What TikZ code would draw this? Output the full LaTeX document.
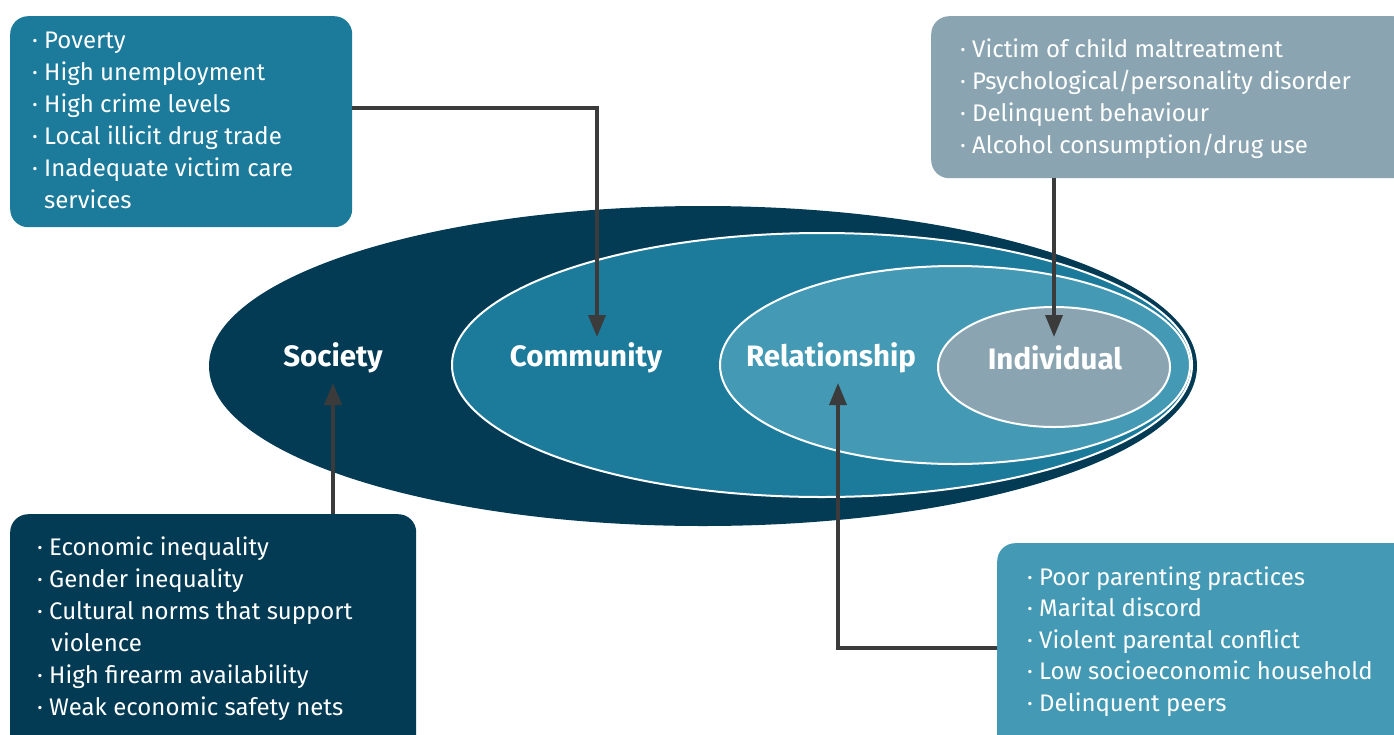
\documentclass[tikz,border=0pt]{standalone}
\usepackage{fontspec}
\setmainfont{Fira Sans}
\usetikzlibrary{arrows.meta}
\definecolor{navy}{HTML}{033B55}
\definecolor{commteal}{HTML}{1C7A9B}
\definecolor{relteal}{HTML}{4499B4}
\definecolor{indgray}{HTML}{8AA5B1}
\definecolor{arrgray}{HTML}{3B3B3B}
\newcommand{\bl}{\makebox[12pt][l]{\textperiodcentered}}
\tikzset{
  box/.style={rounded corners=18pt, inner sep=0pt, anchor=north west},
  txt/.style={text=white, inner sep=0pt, anchor=base west, font=\fontsize{24}{32}\selectfont},
  lab/.style={text=white, inner sep=0pt, font=\fontsize{29.5}{32}\selectfont\bfseries},
  ring/.style={draw=white, line width=2pt},
  arr/.style={draw=arrgray, line width=3.5pt, -{Triangle[length=22pt,width=17pt]}}
}
\begin{document}
\begin{tikzpicture}[x=1pt,y=-1pt]
\fill[white] (0,0) rectangle (1394,734);
\useasboundingbox (0,0) rectangle (1394,734);
% ellipses
\fill[navy] (703,366) ellipse [x radius=494pt, y radius=160pt];
\filldraw[fill=commteal, ring] (822,365) ellipse [x radius=370pt, y radius=132pt];
\filldraw[fill=relteal, ring] (955,365) ellipse [x radius=235pt, y radius=99pt];
\filldraw[fill=indgray, ring] (1054,367) ellipse [x radius=116pt, y radius=60pt];
% labels
\node[lab] (soc) at (333,358) {Society};
\node[lab] (com) at (586,358) {Community};
\node[lab] (rel) at (831,358) {Relationship};
\node[lab] (ind) at (1055,358) {Individual};
% boxes
\node[box, fill=commteal, minimum width=342pt, minimum height=211pt] (commbox) at (10,16) {};
\node[box, fill=indgray, minimum width=480pt, minimum height=162pt] (indbox) at (931,16) {};
\node[box, fill=navy, minimum width=406pt, minimum height=240pt] (socbox) at (10,514) {};
\node[box, fill=relteal, minimum width=420pt, minimum height=220pt] (relbox) at (997,543) {};
% texts
\node[txt] (commtxt) at (32,48) {\begin{tabular}[t]{@{}l@{}}
\bl Poverty\\ \bl High unemployment\\ \bl High crime levels\\ \bl Local illicit drug trade\\
\bl Inadequate victim care\\ \hspace{12pt}services\end{tabular}};
\node[txt] (indtxt) at (960,57) {\begin{tabular}[t]{@{}l@{}}
\bl Victim of child maltreatment\\ \bl Psychological/personality disorder\\ \bl Delinquent behaviour\\ \bl Alcohol consumption/drug use\end{tabular}};
\node[txt] (soctxt) at (37,555) {\begin{tabular}[t]{@{}l@{}}
\bl Economic inequality\\ \bl Gender inequality\\ \bl Cultural norms that support\\ \hspace{14pt}violence\\
\bl High firearm availability\\ \bl Weak economic safety nets\end{tabular}};
\node[txt, font=\fontsize{24}{31.5}\selectfont] (reltxt) at (1027,585) {\begin{tabular}[t]{@{}l@{}}
\bl Poor parenting practices\\ \bl Marital discord\\ \bl Violent parental conflict\\ \bl Low socioeconomic household\\ \bl Delinquent peers\end{tabular}};
% arrow ends
\coordinate (comtip) at (597,337);
\coordinate (indtip) at (1054,337);
\coordinate (soctip) at (333,383);
\coordinate (reltip) at (838,383);
% arrows
\draw[arr] (commbox.east |- 0,108) -| (comtip);
\draw[arr] (indtip |- indbox.south) -- (indtip);
\draw[arr] (soctip |- socbox.north) -- (soctip);
\draw[arr] (relbox.west |- 0,648) -| (reltip);
\end{tikzpicture}
\end{document}
